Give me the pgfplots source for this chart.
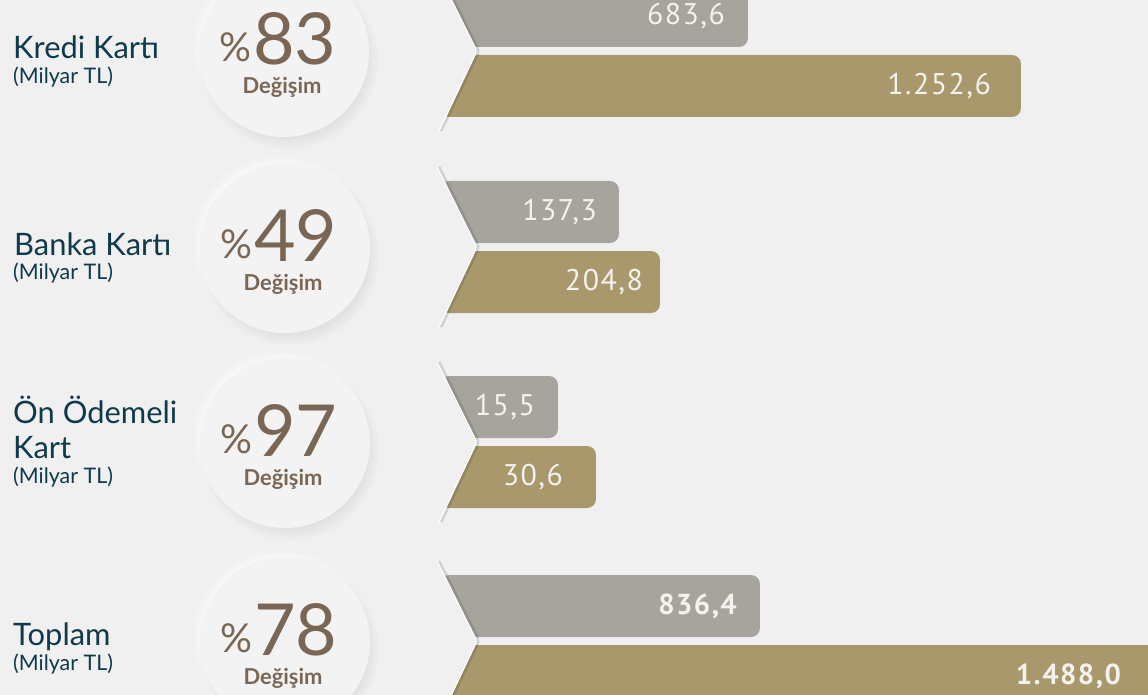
\documentclass[border=0pt]{standalone}
\usepackage{pgfplots}
\pgfplotsset{compat=1.18}
\usepackage{pgfplotstable}
\usepackage{fontspec}
\setmainfont{Lato}
\newfontfamily\ptsans{PT Sans}[LetterSpace=5]
\usetikzlibrary{shadows}

\definecolor{bgc}{HTML}{F0F0F0}
\definecolor{circ}{HTML}{F3F3F3}
\definecolor{labc}{HTML}{0E3A4C}
\definecolor{brownc}{HTML}{7A6654}
\definecolor{greybar}{HTML}{A6A49C}
\definecolor{goldbar}{HTML}{A8986C}
\definecolor{bartext}{HTML}{F4F2EE}

% y = row centre (px from top), len = drawn bar length, val = value shown, off = label inset
\pgfplotstableread{
y   len val    off
51  308 683.6  23
247 179 137.3  22
442 118 15.5   23
}\greyA
\pgfplotstableread{
y   len val    off
51  581 1252.6 30
247 220 204.8  17
442 156 30.6   33
}\goldA
\pgfplotstableread{
y   len val   off
641 320 836.4 23
}\greyB
\pgfplotstableread{
y   len val    off
641 708 1488.0 27
}\goldB

\pgfplotsset{
  barlab/.style 2 args={
    point meta=explicit,
    visualization depends on={\thisrow{off} \as \off},
    nodes near coords={\pgfmathprintnumber[fixed,fixed zerofill,precision=1,use comma,assume math mode=true]{\pgfplotspointmeta}},
    every node near coord/.append style={anchor=east, xshift=-\off pt, yshift=#2, text=bartext, font=#1, inner sep=0pt},
  },
}

\newcommand{\circblock}[3]{% cx cy number
  \fill[circ, circular drop shadow={shadow xshift=-5bp, shadow yshift=6bp, fill=white, opacity=0.8, shadow scale=1.03},
        circular drop shadow={shadow xshift=4bp, shadow yshift=-7bp, fill=black!55, opacity=0.12, shadow scale=1.06}]
     (axis cs:#1,#2) circle[radius=85bp];
  \node[anchor=base, text=brownc, inner sep=0pt, text depth=0pt] at (axis cs:#1-6,#2+13)
     {\raisebox{3bp}{\fontsize{40}{40}\selectfont\%}\hspace{1.5bp}\fontsize{72}{72}\selectfont #3};
  \node[anchor=base, text=brownc, inner sep=0pt, text height=14bp, font=\bfseries\fontsize{22}{22}\selectfont] at (axis cs:#1-2,#2+42) {Değişim};
}
\newcommand{\chevron}[1]{% row centre
  \fill[bgc, rounded corners=4bp] (axis cs:-25,#1-82) -- (axis cs:-3,#1-82) -- (axis cs:37,#1) -- (axis cs:-1,#1+82) -- (axis cs:-25,#1+82) -- cycle;
  \draw[black, opacity=0.12, line width=3bp, rounded corners=4bp] (axis cs:-1,#1-80) -- (axis cs:39,#1) -- (axis cs:1,#1+80);
  \draw[white, line width=1.1bp, rounded corners=4bp] (axis cs:-3,#1-80) -- (axis cs:37,#1) -- (axis cs:-1,#1+80);
}

\begin{document}
\begin{tikzpicture}
\fill[bgc] (0,0) rectangle (1148bp,695bp);
\begin{axis}[
  scale only axis, width=1148bp, height=695bp,
  xmin=-440, xmax=708, ymin=0, ymax=695, y dir=reverse,
  hide axis, clip=true,
]
\addplot[xbar, bar width=62, bar shift=-35, fill=greybar, draw=none, rounded corners=9bp,
  barlab={\ptsans\fontsize{30}{30}\selectfont}{35bp}] table[x=len, y=y, meta=val] {\greyA};
\addplot[xbar, bar width=62, bar shift=35, fill=goldbar, draw=none, rounded corners=9bp,
  barlab={\ptsans\fontsize{30}{30}\selectfont}{-35bp}] table[x=len, y=y, meta=val] {\goldA};
\addplot[xbar, bar width=62, bar shift=-35, fill=greybar, draw=none, rounded corners=9bp,
  barlab={\ptsans\bfseries\fontsize{29}{29}\selectfont}{35bp}] table[x=len, y=y, meta=val] {\greyB};
\addplot[xbar, bar width=62, bar shift=35, fill=goldbar, draw=none,
  barlab={\ptsans\bfseries\fontsize{29}{29}\selectfont}{-35bp}] table[x=len, y=y, meta=val] {\goldB};

\chevron{51}\chevron{247}\chevron{442}\chevron{641}

\circblock{-156}{52}{83}
\circblock{-155}{248}{49}
\circblock{-155}{443}{97}
\circblock{-155}{642}{78}

\tikzset{lab/.style={anchor=base west, inner sep=0pt, text=labc, font=\fontsize{31}{31}\selectfont},
         sub/.style={anchor=base west, inner sep=0pt, text=labc, font=\fontsize{21.5}{21.5}\selectfont}}
\node[lab] at (axis cs:-427,59) {Kredi Kartı};
\node[sub] at (axis cs:-427,84) {(Milyar TL)};
\node[lab] at (axis cs:-426,255) {Banka Kartı};
\node[sub] at (axis cs:-427,279) {(Milyar TL)};
\node[lab] at (axis cs:-427,423) {Ön Ödemeli};
\node[lab] at (axis cs:-427,458) {Kart};
\node[sub] at (axis cs:-427,483) {(Milyar TL)};
\node[lab] at (axis cs:-427,645) {Toplam};
\node[sub] at (axis cs:-427,670) {(Milyar TL)};
\end{axis}
\pgfresetboundingbox
\useasboundingbox (0,0) rectangle (1148bp,695bp);
\end{tikzpicture}
\end{document}
